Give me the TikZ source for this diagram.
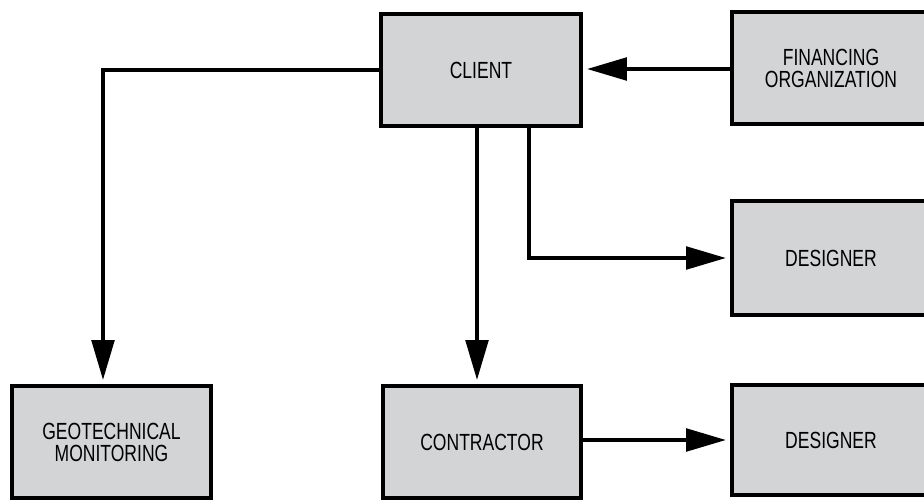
\documentclass[tikz,border=0pt]{standalone}
\usepackage{fontspec}
\setmainfont[FakeStretch=0.75]{Liberation Sans}
\usetikzlibrary{arrows.meta}
\definecolor{boxgray}{RGB}{211,212,214}
\begin{document}
\begin{tikzpicture}[x=0.02cm, y=-0.02cm,
        block/.style={draw, line width=0.08cm, fill=boxgray, minimum width=3.96cm,
            minimum height=2.24cm, align=center, font=\fontsize{13.3}{12.5}\selectfont},
        link/.style={line width=0.08cm, -{Triangle[length=0.8cm,width=0.45cm]}, shorten >=0.08cm}]
        \path[use as bounding box, clip] (0,0) rectangle (924,501);

        % top row
        \node[block, minimum width=4cm] (client) at (481,70) {CLIENT};
        \node[block] (finance) at (831,68) {FINANCING\\ORGANIZATION};
        \node[block, minimum height=2.3cm] (designA) at (831,258) {DESIGNER};

        % bottom row
        \node[block, minimum width=3.98cm] (geo) at (111.5,442) {GEOTECHNICAL\\MONITORING};
        \node[block] (contractor) at (482,442) {CONTRACTOR};
        \node[block, minimum height=2.2cm] (designB) at (831,440) {DESIGNER};

        % connectors
        \coordinate (clientfoot) at ([xshift=-0.08cm]client.south);
        \draw[link] (finance.west |- 0,69) -- (client.east |- 0,69);
        \draw[link] (client.west) -| ([xshift=-0.17cm]geo.north);
        \draw[link] ([xshift=0.96cm]client.south) |- (designA.west);
        \draw[link] (clientfoot) -- (clientfoot |- contractor.north);
        \draw[link] (designB.west -| contractor.east) -- (designB.west);
    \end{tikzpicture}
\end{document}
